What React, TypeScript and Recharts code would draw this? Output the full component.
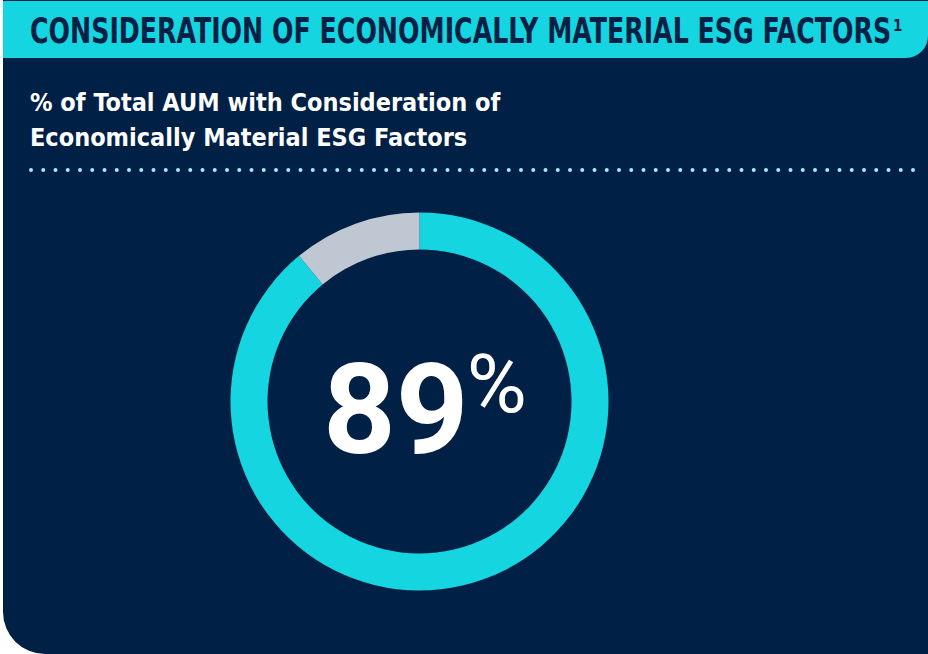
import React from "react";
import { PieChart, Pie, Cell } from "recharts";

const SEGMENTS = ["Consideration of ESG factors", "Other"];
const SHARES = [89, 11];
const COLORS = ["#15d6e0", "#bfc8d2"];

const TITLE = "CONSIDERATION OF ECONOMICALLY MATERIAL ESG FACTORS";
const SUBTITLE = ["% of Total AUM with Consideration of", "Economically Material ESG Factors"];
const CENTER_VALUE = "89";

const NAVY = "#012046";
const CYAN = "#15d6e0";
const CONDENSED = "'DejaVu Sans Condensed', 'DejaVu Sans', sans-serif";

const data = SEGMENTS.map((name, i) => ({ name, value: SHARES[i] }));

export default function App() {
  return (
    <div style={{ position: "absolute", left: 0, top: 0, width: 928, height: 654, background: "#fff", overflow: "hidden" }}>
      {/* panel */}
      <div
        style={{
          position: "absolute",
          left: 3,
          top: 0,
          width: 925,
          height: 654,
          background: NAVY,
          borderBottomLeftRadius: 42,
        }}
      />
      {/* header band */}
      <div
        style={{
          position: "absolute",
          left: 3,
          top: 1,
          width: 925,
          height: 57,
          background: CYAN,
          borderBottomRightRadius: 22,
        }}
      />

      <div style={{ position: "absolute", left: 0, top: 0 }}>
        <PieChart width={928} height={654} margin={{ top: 0, right: 0, bottom: 0, left: 0 }}>
          <Pie
            data={data}
            dataKey="value"
            nameKey="name"
            cx={419.5}
            cy={401.5}
            innerRadius={152}
            outerRadius={189}
            startAngle={90}
            endAngle={-270}
            stroke="none"
            isAnimationActive={false}
          >
            {data.map((_, i) => (
              <Cell key={`cell-${i}`} fill={COLORS[i]} />
            ))}
          </Pie>
        </PieChart>
      </div>

      {/* texts */}
      <svg width={928} height={654} style={{ position: "absolute", left: 0, top: 0, pointerEvents: "none" }}>
        <g transform="translate(30,43) scale(0.803,1)">
          <text x={0} y={0} fill={NAVY} fontFamily={CONDENSED} fontWeight={700} fontSize={35}>
            {TITLE}
          </text>
        </g>
        <text x={893} y={31} fill={NAVY} fontFamily={CONDENSED} fontWeight={700} fontSize={15}>
          1
        </text>

        {SUBTITLE.map((line, i) => (
          <text
            key={line}
            x={30}
            y={111 + i * 35}
            fill="#ffffff"
            fontFamily={CONDENSED}
            fontWeight={700}
            fontSize={25}
          >
            {line}
          </text>
        ))}

        <line
          x1={31}
          y1={170}
          x2={914}
          y2={170}
          stroke="#a4ecf2"
          strokeWidth={4}
          strokeLinecap="round"
          strokeDasharray="0 12.25"
        />

        <text x={323} y={453} fill="#ffffff" fontFamily="Roboto, sans-serif" fontWeight={700} fontSize={127}>
          {CENTER_VALUE}
          <tspan dx={-2} dy={-41} fontWeight={400} fontSize={82}>
            %
          </tspan>
        </text>
      </svg>
    </div>
  );
}
